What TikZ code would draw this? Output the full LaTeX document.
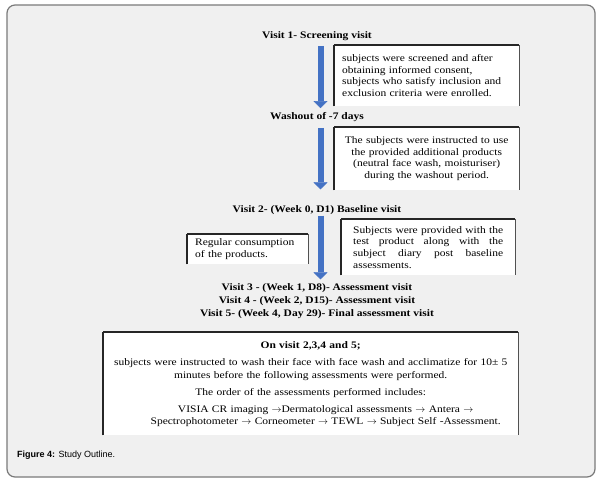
\documentclass[tikz,border=0pt]{standalone}
\usepackage{fontspec}
\setmainfont{Liberation Serif}[FakeStretch=1.15]
\newfontfamily\capfont{Liberation Sans}
\usetikzlibrary{positioning,arrows.meta}
\definecolor{frameback}{HTML}{F0F0F0}
\definecolor{framegray}{HTML}{7A7A7A}
\definecolor{arrowblue}{HTML}{4472C4}
\definecolor{edgedark}{HTML}{262626}
\tikzset{
  heading/.style={font=\bfseries\fontsize{10}{12}\selectfont, inner sep=0pt},
  notebox/.style={fill=white, anchor=north west, inner xsep=8pt, inner ysep=3pt,
    font=\fontsize{10}{11.6}\selectfont},
  flowarrow/.style={line width=6pt, arrowblue,
    -{Triangle[width=14pt,length=7pt,line width=0.4pt]}},
  boxleft/.style={edgedark, line width=1.3pt},
  boxtop/.style={edgedark, line width=1.8pt},
  boxright/.style={edgedark!80, line width=0.9pt},
}
\begin{document}
\begin{tikzpicture}[x=1pt,y=-1pt]
  \useasboundingbox (0,0) rectangle (608,480);
  \fill[white] (0,0) rectangle (608,480);
  \draw[framegray, line width=1.2pt, fill=frameback, rounded corners=8pt] (7,5) rectangle (595,477);

  % Define nodes
  \node[heading] (v1) at (317,36) {Visit 1- Screening visit};
  \node[heading] (wash) at (317,117) {Washout of -7 days};
  \node[heading] (v2) at (317,210) {Visit 2- (Week 0, D1) Baseline visit};
  \node[heading] (v3) at (317,288) {Visit 3 - (Week 1, D8)- Assessment visit};
  \node[heading, below=4pt of v3] (v4) {Visit 4 - (Week 2, D15)- Assessment visit};
  \node[heading, below=3.5pt of v4] (v5) {Visit 5- (Week 4, Day 29)- Final assessment visit};

  \node[notebox, text width=169pt, minimum height=61pt, align=left] (b1) at (334,45)
    {subjects were screened and after\\ obtaining informed consent,\\ subjects who satisfy inclusion and\\ exclusion criteria were enrolled.};
  \node[notebox, text width=169pt, minimum height=63pt, align=center] (b2) at (334,127)
    {The subjects were instructed to use\\ the provided additional products\\ (neutral face wash, moisturiser)\\ during the washout period.};
  \node[notebox, text width=105pt, minimum height=30pt, align=left] (b3) at (187,234)
    {Regular consumption\\ of the products.};
  \node[notebox, inner xsep=12pt, text width=150pt, minimum height=56pt, align=justify] (b4) at (341,219)
    {Subjects were provided with the\linebreak test product along with the\linebreak subject diary post baseline\linebreak assessments.};
  \node[notebox, text width=399pt, minimum height=103pt, align=center] (b5) at (103,332)
    {\textbf{On visit 2,3,4 and 5;}\\[6pt]
     subjects were instructed to wash their face with face wash and acclimatize for 10± 5\\[1pt]
     minutes before the following assessments were performed.\\[6pt]
     The order of the assessments performed includes:\\[5pt]
     \hspace*{30pt}VISIA CR imaging $\rightarrow$Dermatological assessments $\rightarrow$ Antera $\rightarrow$\\
     \hspace*{30pt}Spectrophotometer $\rightarrow$ Corneometer $\rightarrow$ TEWL $\rightarrow$ Subject Self -Assessment.};

  \node[font=\capfont\fontsize{9}{11}\selectfont, anchor=west, inner sep=0pt] (cap) at (17,455)
    {\textbf{Figure 4:} Study Outline.};

  % Box edges
  \foreach \b in {b1,b2,b3,b4,b5} {
    \draw[boxleft] (\b.south west) -- (\b.north west);
    \draw[boxtop] (\b.north west) -- (\b.north east);
    \draw[boxright] (\b.north east) -- (\b.south east);
  }

  % Connect nodes
  \draw[flowarrow] ([xshift=3.5pt,yshift=-5pt]v1.south) -- ([xshift=3.5pt,yshift=4pt]wash.north);
  \draw[flowarrow] ([xshift=3.5pt,yshift=-6pt]wash.south) -- ([xshift=3.5pt,yshift=16pt]v2.north);
  \draw[flowarrow] ([xshift=3.5pt,yshift=-1pt]v2.south) -- ([xshift=3.5pt,yshift=4pt]v3.north);
\end{tikzpicture}
\end{document}
